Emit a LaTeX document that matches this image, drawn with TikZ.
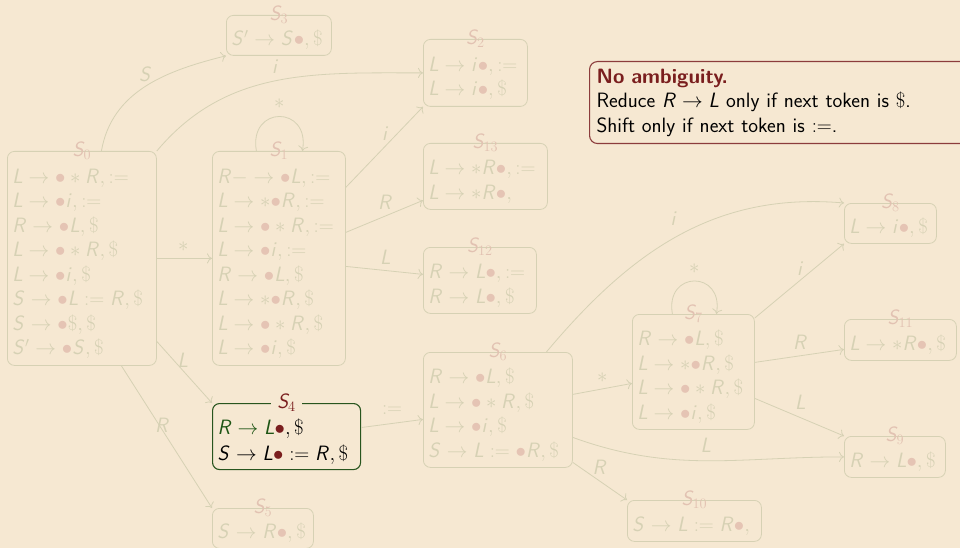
\documentclass[tikz,border=0pt]{standalone}
\usetikzlibrary{arrows.meta}
\DeclareSymbolFont{sfit}{OT1}{cmss}{m}{sl}
\DeclareMathSymbol{L}{\mathalpha}{sfit}{`L}
\DeclareMathSymbol{R}{\mathalpha}{sfit}{`R}
\DeclareMathSymbol{S}{\mathalpha}{sfit}{`S}
\DeclareMathSymbol{i}{\mathalpha}{sfit}{`i}
\definecolor{bg}{RGB}{246,232,210}
\definecolor{fade}{RGB}{214,209,180}
\definecolor{flbl}{RGB}{226,194,178}
\definecolor{fdotc}{RGB}{229,196,180}
\definecolor{dred}{RGB}{122,30,30}
\definecolor{nbord}{RGB}{140,60,60}
\definecolor{agreen}{RGB}{30,85,20}
\definecolor{aborder}{RGB}{40,85,30}
\newcommand\stfont{\fontsize{20.74}{24.5}\selectfont}
\newcommand\fbul{{\color{fdotc}\bullet}}
\newcommand\abul{{\color{dred}\bullet}}
\tikzset{
  stbox/.style={draw=fade, line width=0.8pt, rounded corners=7pt, text=fade,
    font=\stfont, align=left, anchor=north west, inner xsep=5pt, inner ysep=0pt,
    execute at begin node={\rule{0pt}{25pt}}},
  slbl/.style={text=flbl, font=\stfont, inner sep=1pt, anchor=center},
  tr/.style={draw=fade, line width=0.8pt, -{To[length=5pt,width=10pt]}},
  el/.style={text=fade, font=\stfont, inner sep=0pt, anchor=center},
}
\begin{document}
\begin{tikzpicture}[x=1pt,y=1pt]
\useasboundingbox (0,0) rectangle (960,-548);
\fill[bg] (0,0) rectangle (960,-548);
\begin{scope}
\clip (0,0) rectangle (960,-548);
% states
\node[stbox, text width=95pt, minimum height=40pt] (s3) at (226,-15) {$S'\rightarrow S\fbul,\$$};
\node[stbox, text width=139pt, minimum height=214pt] (s0) at (7,-151) {%
$L\rightarrow\fbul\ast R,:=$\\
$L\rightarrow\fbul i,:=$\\
$R\rightarrow\fbul L,\$$\\
$L\rightarrow\fbul\ast R,\$$\\
$L\rightarrow\fbul i,\$$\\
$S\rightarrow\fbul L:=R,\$$\\
$S\rightarrow\fbul\$,\$$\\
$S'\rightarrow\fbul S,\$$};
\node[stbox, text width=123pt, minimum height=214pt] (s1) at (212,-151) {%
$R-\rightarrow\fbul L,:=$\\
$L\rightarrow\ast\fbul R,:=$\\
$L\rightarrow\fbul\ast R,:=$\\
$L\rightarrow\fbul i,:=$\\
$R\rightarrow\fbul L,\$$\\
$L\rightarrow\ast\fbul R,\$$\\
$L\rightarrow\fbul\ast R,\$$\\
$L\rightarrow\fbul i,\$$};
\node[stbox, text width=94pt, minimum height=67pt] (s2) at (423,-39) {%
$L\rightarrow i\fbul,:=$\\
$L\rightarrow i\fbul,\$$};
\node[stbox, text width=114pt, minimum height=66pt] (s13) at (423,-143) {%
$L\rightarrow\ast R\fbul,:=$\\
$L\rightarrow\ast R\fbul,$};
\node[stbox, text width=103pt, minimum height=66pt] (s12) at (423,-247) {%
$R\rightarrow L\fbul,:=$\\
$R\rightarrow L\fbul,\$$};
\node[stbox, draw=aborder, line width=1.1pt, text=black, text width=138pt, minimum height=66pt] (s4) at (212,-403) {%
${\color{agreen}R\rightarrow L}\abul,\$$\\[1.5pt]
$S\rightarrow L\abul:=R,\$$};
\node[stbox, text width=91pt, minimum height=40pt] (s5) at (212,-508) {$S\rightarrow R\fbul,\$$};
\node[stbox, text width=139pt, minimum height=115pt] (s6) at (423,-352) {%
$R\rightarrow\fbul L,\$$\\
$L\rightarrow\fbul\ast R,\$$\\
$L\rightarrow\fbul i,\$$\\
$S\rightarrow L:=\fbul R,\$$};
\node[stbox, text width=112pt, minimum height=115pt] (s7) at (632,-314) {%
$R\rightarrow\fbul L,\$$\\
$L\rightarrow\ast\fbul R,\$$\\
$L\rightarrow\fbul\ast R,\$$\\
$L\rightarrow\fbul i,\$$};
\node[stbox, text width=82pt, minimum height=40pt] (s8) at (844,-203) {$L\rightarrow i\fbul,\$$};
\node[stbox, text width=102pt, minimum height=41pt] (s11) at (844,-319) {$L\rightarrow\ast R\fbul,\$$};
\node[stbox, text width=91pt, minimum height=41pt] (s9) at (844,-436) {$R\rightarrow L\fbul,\$$};
\node[stbox, text width=124pt, minimum height=41pt] (s10) at (627,-500) {$S\rightarrow L:=R\fbul,$};
% state labels
\node[slbl] (l0) at (s0.north) {$S_0$};
\node[slbl] (l1) at (s1.north) {$S_1$};
\node[slbl] (l2) at (s2.north) {$S_2$};
\node[slbl] (l3) at (s3.north) {$S_3$};
\node[fill=bg, text=dred, font=\stfont, inner xsep=6pt, inner ysep=0pt, anchor=center] (l4) at (s4.north) {$S_4$};
\node[slbl] (l5) at (s5.north) {$S_5$};
\node[slbl] (l6) at (s6.north) {$S_6$};
\node[slbl] (l7) at (s7.north) {$S_7$};
\node[slbl] (l8) at (s8.north) {$S_8$};
\node[slbl] (l9) at (s9.north) {$S_9$};
\node[slbl] (l10) at (s10.north) {$S_{10}$};
\node[slbl] (l11) at (s11.north) {$S_{11}$};
\node[slbl] (l12) at (s12.north) {$S_{12}$};
\node[slbl] (l13) at (s13.north) {$S_{13}$};
% transitions
\draw[tr] ([xshift=19.5pt]s0.north) to[out=80,in=194] node[el,midway,yshift=12pt]{$S$} (s3.south west);
\draw[tr] (s0.north east) to[out=50,in=180] node[el,midway,yshift=14pt]{$i$} (s2.west);
\draw[tr] ([xshift=-22.5pt]s1.north) to[out=100,in=80,looseness=2.6] node[el,pos=0.5,yshift=13pt]{$\ast$} ([xshift=23.5pt]s1.north);
\draw[tr] (s0.east) -- node[el,midway,yshift=12pt,xshift=-1pt]{$\ast$} (s1.west);
\draw[tr] ([yshift=-83pt]s0.east) -- node[el,midway,yshift=12pt,xshift=-1.5pt]{$L$} (s4.north west);
\draw[tr] ([xshift=39.5pt]s0.south) -- node[el,midway,yshift=11.5pt,xshift=-4.5pt]{$R$} (s5.north west);
\draw[tr] ([yshift=71pt]s1.east) -- node[el,midway,yshift=13.5pt,xshift=1pt]{$i$} (s2.south west);
\draw[tr] ([yshift=26pt]s1.east) -- node[el,midway,yshift=14pt,xshift=1pt]{$R$} ([yshift=-24pt]s13.west);
\draw[tr] ([yshift=-8pt]s1.east) -- node[el,midway,yshift=13pt,xshift=1pt]{$L$} ([yshift=6pt]s12.west);
\draw[tr] ([yshift=9pt]s4.east) -- node[el,midway,yshift=13pt]{$:=$} ([yshift=-9.5pt]s6.west);
\draw[tr] ([xshift=48.5pt]s6.north) to[out=50,in=175] node[el,midway,yshift=17pt,xshift=-4pt]{$i$} (s8.north west);
\draw[tr] ([yshift=15.5pt]s6.east) -- node[el,midway,yshift=11.5pt]{$\ast$} ([yshift=-11.5pt]s7.west);
\draw[tr] ([yshift=-27.5pt]s6.east) to[out=-20,in=180] node[el,midway,yshift=15pt]{$L$} (s9.west);
\draw[tr] ([yshift=-52.5pt]s6.east) -- node[el,midway,yshift=14pt]{$R$} (s10.north west);
\draw[tr] ([xshift=-21pt]s7.north) to[out=100,in=80,looseness=2.6] node[el,pos=0.5,yshift=12pt]{$\ast$} ([xshift=23pt]s7.north);
\draw[tr] ([yshift=-4pt]s7.north east) -- node[el,midway,yshift=12.5pt,xshift=1pt]{$i$} (s8.south west);
\draw[tr] ([yshift=9.5pt]s7.east) -- node[el,midway,yshift=13.5pt,xshift=1pt]{$R$} ([yshift=-9.5pt]s11.west);
\draw[tr] ([yshift=-26.5pt]s7.east) -- node[el,midway,yshift=15pt,xshift=1pt]{$L$} (s9.north west);
% note
\node[draw=nbord, line width=1.1pt, rounded corners=8pt, fill=bg, anchor=north west,
  text width=370pt, minimum height=82pt, inner xsep=7pt, inner ysep=0pt, align=left,
  font=\sffamily\stfont] (nt) at (589,-61) {%
{\bfseries\color{dred}No ambiguity.}\\
Reduce $R\rightarrow L$ only if next token is $\$$.\\
Shift only if next token is $:=$.};
\end{scope}
\end{tikzpicture}
\end{document}
